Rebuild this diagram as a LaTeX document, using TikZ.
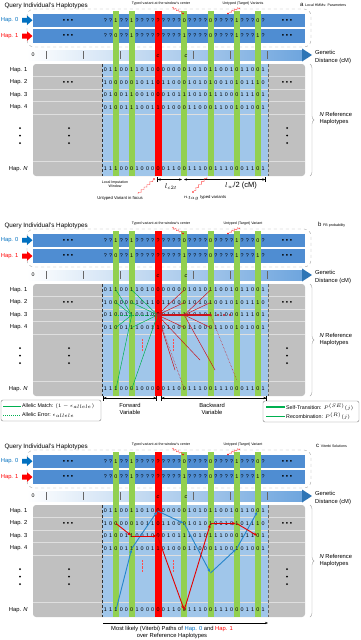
\documentclass[tikz,border=0pt]{standalone}
\usepackage{fontspec}
\setmainfont{Liberation Sans}
\usetikzlibrary{decorations.pathreplacing,decorations.pathmorphing,arrows.meta,calc}
\definecolor{qblue}{RGB}{79,141,210}
\definecolor{refblue}{RGB}{160,198,234}
\definecolor{refgray}{RGB}{192,192,192}
\definecolor{vgreen}{RGB}{146,208,80}
\definecolor{vred}{RGB}{255,0,0}
\definecolor{hapblue}{RGB}{0,112,192}
\definecolor{axblue}{RGB}{110,165,222}
\definecolor{axdark}{RGB}{46,117,182}
\definecolor{lgreen}{RGB}{0,176,80}
\definecolor{dred}{RGB}{200,20,30}
\newcommand\digrow[2]{\foreach \c [count=\i from 0] in {#2} {\node[dig] at ({105.5+5.25*\i},#1) {\c};}}
\newcommand\basepanel[1]{%
  \draw[gray!70, dashed, rounded corners=7pt] (27,9) rectangle (311,47);
  \fill[qblue] (33,13.5) rectangle (305,27);
  \fill[qblue] (33,29) rectangle (305,42.5);
  \shade[left color=white, right color=axblue] (27,50) rectangle (303,60);
  \fill[axdark] (302,48.5) -- (312,55) -- (302,61.5) -- cycle;
  \fill[refgray, rounded corners=3pt] (33,64) rectangle (305,176);
  \fill[refblue] (102,64) rectangle (268,176);
  \foreach \yy in {76,89,101,114,161} \draw[white!75!gray, line width=0.5pt] (33,\yy) -- (305,\yy);
  \foreach \k in {2,5,15,20,25,29} \fill[vgreen] ({105.5+5.25*\k-3},11) rectangle ({105.5+5.25*\k+3},176);
  \fill[vred] ({105.5+5.25*10-3.5},11) rectangle ({105.5+5.25*10+3.5},176);
  \draw[black!80, densely dashed, line width=0.5pt] (102,64) -- (102,176);
  \draw[black!60, densely dashed, line width=0.4pt] (268,64) -- (268,176);
  \foreach \xx in {46,83,120,193,230,267} \draw[gray!80!black, line width=0.4pt] (\xx,51) -- (\xx,59);
  \node[lab] (zero#1) at (33,55) {0};
  \node[lab, font=\fontsize{5.5}{6}\selectfont\itshape] (cc#1) at (158,56) {c};
  \node[lab, font=\fontsize{5.5}{6}\selectfont\itshape] (cd#1) at (186,56) {c};
  \node[anchor=west, font=\fontsize{5.8}{7}\selectfont, inner sep=0pt] (gd#1) at (315,52) {Genetic};
  \node[anchor=west, font=\fontsize{5.8}{7}\selectfont, inner sep=0pt] (gd2#1) at (315,61) {Distance (cM)};
  \node[anchor=west, font=\fontsize{6.3}{7}\selectfont] (title#1) at (1,6) {Query Individual's Haplotypes};
  % query labels
  \node[anchor=east, text=hapblue, font=\fontsize{5.8}{7}\selectfont] (q0#1) at (22,20) {Hap. 0};
  \node[anchor=east, text=vred, font=\fontsize{5.8}{7}\selectfont] (q1#1) at (22,36) {Hap. 1};
  \fill[hapblue] (22,17.8) -- (27,17.8) -- (27,15.5) -- (32.5,20.2) -- (27,25) -- (27,22.7) -- (22,22.7) -- cycle;
  \fill[vred] (22,33.6) -- (27,33.6) -- (27,31.3) -- (32.5,36) -- (27,40.8) -- (27,38.5) -- (22,38.5) -- cycle;
  \node[bul] (qd0#1) at (68,20.5) {\textbullet\ \textbullet\ \textbullet};
  \node[bul] (qd1#1) at (68,36) {\textbullet\ \textbullet\ \textbullet};
  \node[bul] (qe0#1) at (287,20.5) {\textbullet\ \textbullet\ \textbullet};
  \node[bul] (qe1#1) at (287,36) {\textbullet\ \textbullet\ \textbullet};
  \digrow{20.5}{?,?,1,?,?,1,?,?,?,?,?,?,?,?,?,0,?,?,?,?,0,?,?,?,?,1,?,?,?,0,?}
  \digrow{36}{?,?,0,?,?,1,?,?,?,?,?,?,?,?,?,1,?,?,?,?,0,?,?,?,?,1,?,?,?,1,?}
  % reference
  \foreach \n/\yy in {1/70,2/82.5,3/95,4/107.5} \node[anchor=east, font=\fontsize{5.8}{7}\selectfont] (r\n#1) at (31,\yy) {Hap. \n};
  \node[anchor=east, font=\fontsize{5.8}{7}\selectfont] (rN#1) at (31,169) {Hap. \textit{N}};
  \digrow{70}{0,1,1,0,0,1,1,0,1,0,0,0,0,0,0,0,1,0,1,0,1,1,0,0,1,0,1,1,0,0,1}
  \digrow{82.5}{1,0,0,0,0,0,1,0,1,1,0,1,1,0,0,0,1,0,1,0,1,0,0,1,0,1,0,1,1,1,0}
  \digrow{95}{0,1,0,0,1,1,0,0,1,0,0,0,1,0,1,1,1,0,1,0,1,1,1,0,0,0,1,1,1,0,1}
  \digrow{107.5}{0,1,0,0,1,1,1,0,0,1,1,0,1,0,0,0,1,1,0,0,0,1,1,0,0,1,0,1,0,0,1}
  \digrow{169}{1,1,1,0,0,0,1,0,0,0,0,0,1,1,0,0,1,1,1,0,0,1,1,1,0,0,0,1,1,0,1}
  \node[bul] (rd2#1) at (68,82.5) {\textbullet\ \textbullet\ \textbullet};
  \node[bul] (re2#1) at (287,82.5) {\textbullet\ \textbullet\ \textbullet};
  \foreach \xx in {20,69,287} \foreach \yy in {128,135.5,143} \fill (\xx,\yy) circle (1);
  \draw[gray!70, decorate, decoration={brace, amplitude=4pt}] (310,64) -- (310,176);
  \node[anchor=west, font=\fontsize{5.8}{7}\selectfont, align=left] (nref#1) at (316,119) {\textit{N} Reference\\Haplotypes};
  % top annotations
  \node[tiny] (tv#1) at (161,4) {Typed variant at the window's center};
  \node[tiny] (ut#1) at (243,4) {Untyped (Target) Variant#1};
  \draw[vred!70, decorate, decoration={snake, amplitude=0.9pt, segment length=3pt}] (172,7.5) -- (182,12.5);
  \fill[vred] (183,13.5) circle (0.9);
  \draw[vred!70, decorate, decoration={snake, amplitude=0.9pt, segment length=3pt}] (240,7.5) -- (229,12.5);
  \fill[vred] (228,13.5) circle (0.9);
}
\tikzset{
  dig/.style={inner sep=0pt, font=\fontsize{5.4}{6}\selectfont},
  lab/.style={inner sep=0pt, font=\fontsize{5.3}{6}\selectfont},
  bul/.style={inner sep=0pt, font=\fontsize{6.5}{7}\selectfont},
  tiny/.style={inner sep=0pt, font=\fontsize{3.6}{4}\selectfont},
  arr/.style={line width=0.6pt},
  gl/.style={lgreen, line width=0.5pt},
  rl/.style={dred, line width=0.5pt},
  bpath/.style={hapblue!85, line width=0.9pt, -{Stealth[length=3.5pt,width=3pt]}},
  rpath/.style={vred!90!black, line width=0.9pt, -{Stealth[length=3.5pt,width=3pt]}},
}
\begin{document}
\begin{tikzpicture}[x=1pt,y=-1pt]
\useasboundingbox (0,0) rectangle (360,640);
\fill[white] (0,0) rectangle (360,640);
% ---------------- panel a
\begin{scope}
\basepanel{s}
\node[anchor=west, inner sep=0pt] (pa) at (300,4.5) {\fontsize{6}{7}\selectfont a \fontsize{3.6}{4}\selectfont Local HMMs: Parameters};
\node[tiny, align=center] (liw) at (115,184) {Local Imputation\\Window};
\node[inner sep=0pt, font=\fontsize{4.2}{5}\selectfont] (uvf) at (120,198) {Untyped Variant in focus};
\draw[vred!70, decorate, decoration={snake, amplitude=1pt, segment length=4pt}] (138,194) -- (153,180);
\fill[vred] (154,179) circle (0.9);
\draw[arr, {Bar[width=5pt]Stealth[length=3pt]}-{Stealth[length=3pt]}] (157,179.5) -- (182,179.5);
\draw[arr, {Stealth[length=3pt]}-{Stealth[length=3pt]Bar[width=5pt]}] (184,179.5) -- (266,179.5);
\node[inner sep=0pt, font=\fontsize{7.5}{8}\selectfont] (lc) at (171,187) {$l_{c2t}$};
\node[inner sep=0pt, font=\fontsize{7.5}{8}\selectfont] (lw) at (241,186) {$l_w$/2 (cM)};
\node[inner sep=0pt, font=\fontsize{4.2}{5}\selectfont] (ntag) at (205,198) {$n_{tag}$ typed variants};
\draw[vred!70, decorate, decoration={snake, amplitude=1pt, segment length=4pt}] (207,177) -- (194,191);
\fill[vred] (193,192) circle (0.9);
\end{scope}
% ---------------- panel b
\begin{scope}[shift={(0,220)}]
\basepanel{}
\node[anchor=west, inner sep=0pt] (pb) at (318,4.5) {\fontsize{6}{7}\selectfont b \fontsize{3.6}{4}\selectfont FB probability};
\coordinate (P) at (157.5,95);
\coordinate (G5) at (131.75,95);
\coordinate (R15) at (184.25,95);
\coordinate (R20) at (210.5,95);
\foreach \yy in {70,82.5,107.5} {\draw[gl] (131.75,\yy) -- (P); \draw[gl] (116,\yy) -- (G5);}
\draw[gl] (116,169) -- (G5);
\draw[gl] (131.75,169) -- (P);
\draw[lgreen, densely dotted, line width=0.9pt] (116,95) -- (P);
\foreach \yy in {70,82.5,107.5} {\draw[rl] (P) -- (184.25,\yy); \draw[rl] (R15) -- (210.5,\yy);}
\draw[rl] (P) -- (175,150);
\draw[rl] (P) -- (200,140);
\draw[rl] (R15) -- (215,150);
\draw[dred, densely dotted, line width=0.5pt] (P) -- (184.25,169);
\draw[dred, densely dotted, line width=0.5pt] (R20) -- (236.75,160);
\draw[dred, line width=1.4pt] (P) -- (R20);
\foreach \xx in {157.5,184.25,210.5} \fill[dred] (\xx,95) circle (1.4);
\foreach \xx in {218,224,230} \fill[dred] (\xx,95) circle (1.1);
\foreach \xx in {142,173} \draw[vred!70, densely dotted] (\xx,119) -- (\xx,131);
\draw[arr, {Bar[width=5pt]Stealth[length=3pt]}-{Stealth[length=3pt]Bar[width=5pt]}] (103,178) -- (157,178);
\draw[arr, {Bar[width=5pt]Stealth[length=3pt]}-{Stealth[length=3pt]Bar[width=5pt]}] (161,178) -- (267,178);
\node[inner sep=0pt, font=\fontsize{5.8}{7}\selectfont, align=center] (fv) at (130,189) {Forward\\Variable};
\node[inner sep=0pt, font=\fontsize{5.8}{7}\selectfont, align=center] (bv) at (212,189) {Backward\\Variable};
\draw[gray, rounded corners=2pt] (1,180) rectangle (101,201);
\draw[lgreen, line width=1pt] (3,186) -- (21,186);
\draw[lgreen, densely dotted, line width=1pt] (3,195) -- (21,195);
\node[anchor=west, inner sep=0pt, font=\fontsize{5.3}{6}\selectfont] (am) at (22,186) {Allelic Match: $(1-\epsilon_{allele})$};
\node[anchor=west, inner sep=0pt, font=\fontsize{5.3}{6}\selectfont] (ae) at (22,195) {Allelic Error: $\epsilon_{allele}$};
\draw[gray, rounded corners=2pt] (263,181) rectangle (359,202);
\draw[lgreen, line width=2.2pt] (266,187) -- (285,187);
\draw[lgreen, line width=0.7pt] (266,196) -- (285,196);
\node[anchor=west, inner sep=0pt, font=\fontsize{5.3}{6}\selectfont] (st) at (286,187) {Self-Transition: $P^{(SE)}(j)$};
\node[anchor=west, inner sep=0pt, font=\fontsize{5.3}{6}\selectfont] (rc) at (286,196) {Recombination: $P^{(R)}(j)$};
\end{scope}
% ---------------- panel c
\begin{scope}[shift={(0,441)}]
\basepanel{}
\node[anchor=west, inner sep=0pt] (pc) at (316,4.5) {\fontsize{6}{7}\selectfont c \fontsize{3.6}{4}\selectfont Viterbi Solutions};
\coordinate (b0) at (116,169);
\coordinate (b1) at (131.75,107.5);
\coordinate (b2) at (157.5,70);
\coordinate (b3) at (184.25,82.5);
\coordinate (b4) at (210.5,132);
\coordinate (b5) at (236.75,107.5);
\coordinate (b6) at (257.75,70);
\coordinate (c0) at (116,82.5);
\coordinate (c1) at (131.75,95);
\coordinate (c2) at (157.5,95);
\coordinate (c3) at (184.25,169);
\coordinate (c4) at (210.5,82.5);
\coordinate (c5) at (236.75,82.5);
\coordinate (c6) at (257.75,95);
\foreach \a/\b in {b0/b1,b1/b2,b2/b3,b3/b4,b4/b5,b5/b6} \draw[bpath, shorten >=1pt] (\a) -- (\b);
\foreach \a/\b in {c0/c1,c1/c2,c2/c3,c3/c4,c4/c5,c5/c6} \draw[rpath, shorten >=1pt] (\a) -- (\b);
\foreach \xx in {142,173} \draw[vred!70, densely dotted] (\xx,119) -- (\xx,131);
\draw[line width=0.5pt, -{Stealth[length=3pt]}] (103,182) -- (268,182);
\node[inner sep=0pt, font=\fontsize{5.8}{7}\selectfont, align=center] (ml) at (172,191) {Most likely (Viterbi) Paths of \textcolor{hapblue}{Hap. 0} and \textcolor{vred}{Hap. 1}\\over Reference Haplotypes};
\end{scope}
\end{tikzpicture}
\end{document}
